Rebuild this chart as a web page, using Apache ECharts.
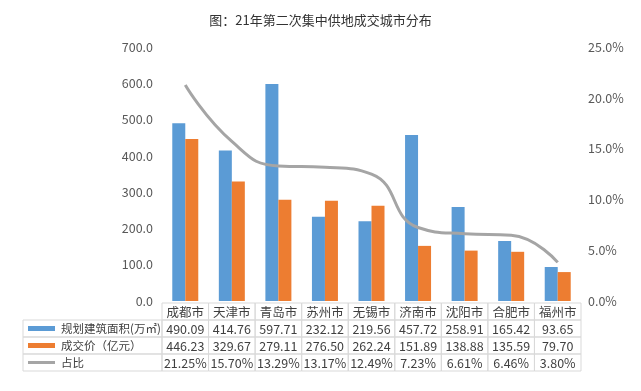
<!DOCTYPE html>
<html><head><meta charset="utf-8">
<script src="https://cdn.jsdelivr.net/npm/echarts@6/dist/echarts.min.js"></script>
<style>html,body{margin:0;padding:0;background:#fff}#c{width:641px;height:391px}</style>
</head><body><div id="c"></div>
<script>
const categories = ['成都市','天津市','青岛市','苏州市','无锡市','济南市','沈阳市','合肥市','福州市'];
const areaValues = [490.09,414.76,597.71,232.12,219.56,457.72,258.91,165.42,93.65];
const priceValues = [446.23,329.67,279.11,276.50,262.24,151.89,138.88,135.59,79.70];
const shareValues = [21.25,15.70,13.29,13.17,12.49,7.23,6.61,6.46,3.80];
const seriesNames = ['规划建筑面积(万㎡)','成交价（亿元）','占比'];
const leftTicks = {min:0,max:700,interval:100};
const rightTicks = {min:0,max:25,interval:5};

const FONT = '"Noto Sans CJK SC","Noto Sans",sans-serif';
const colors = ['#5b9bd5','#ed7d31','#a5a5a5'];
const plotL = 162, plotR = 581, plotT = 47, plotB = 301;
const W = 641, H = 391;
const colW = (plotR - plotL) / categories.length;
const rowTops = [303, 320, 337, 354, 371];
const tableL = 23;
const border = '#d9d9d9';

const graphic = [];
function cell(x, y, w, h) {
  graphic.push({type:'rect', shape:{x:x, y:y, width:w, height:h}, style:{fill:'none', stroke:border, lineWidth:1}, silent:true});
}
function text(x, y, s, align, size) {
  graphic.push({type:'text', x:x, y:y, style:{text:s, font:(size||12.5) + 'px ' + FONT, fill:'#404040', align:align||'center', verticalAlign:'middle'}, silent:true});
}
const rows = [
  categories,
  areaValues.map(v => v.toFixed(2)),
  priceValues.map(v => v.toFixed(2)),
  shareValues.map(v => v.toFixed(2) + '%')
];
rows.forEach((r, ri) => {
  const y = rowTops[ri], h = rowTops[ri+1] - rowTops[ri];
  r.forEach((s, ci) => {
    const x = plotL + ci * colW;
    cell(x, y, colW, h);
    text(x + colW/2, y + h/2 + 0.5, s);
  });
  if (ri > 0) {
    cell(tableL, y, plotL - tableL, h);
    const si = ri - 1;
    const cy = y + h/2;
    if (si < 2) {
      graphic.push({type:'rect', shape:{x:28, y:cy-2.5, width:27, height:5}, style:{fill:colors[si]}, silent:true});
    } else {
      graphic.push({type:'line', shape:{x1:28, y1:cy, x2:55, y2:cy}, style:{stroke:colors[2], lineWidth:3}, silent:true});
    }
    text(61, cy + 0.5, seriesNames[si], 'left', 11.5);
  }
});

const chart = echarts.init(document.getElementById('c'), null, {renderer:'canvas'});
chart.setOption({
  animation:false,
  backgroundColor:'#fff',
  title:{text:'图：21年第二次集中供地成交城市分布', left:'center', top:9, textStyle:{fontFamily:FONT, fontSize:13, fontWeight:'normal', color:'#333'}},
  grid:{left:plotL, right:W-plotR, top:plotT, bottom:H-plotB},
  xAxis:{type:'category', data:categories, axisLine:{show:false}, axisTick:{show:false}, axisLabel:{show:false}},
  yAxis:[
    {type:'value', min:leftTicks.min, max:leftTicks.max, interval:leftTicks.interval, splitLine:{show:false}, axisLine:{show:false}, axisTick:{show:false},
     axisLabel:{formatter:v => v.toFixed(1), color:'#595959', fontSize:12.5, fontFamily:FONT, margin:9}},
    {type:'value', min:rightTicks.min, max:rightTicks.max, interval:rightTicks.interval, splitLine:{show:false}, axisLine:{show:false}, axisTick:{show:false},
     axisLabel:{formatter:v => v.toFixed(1) + '%', color:'#595959', fontSize:12.5, fontFamily:FONT, margin:7}}
  ],
  series:[
    {name:seriesNames[0], type:'bar', data:areaValues, barWidth:13, barGap:'0%', itemStyle:{color:colors[0]}},
    {name:seriesNames[1], type:'bar', data:priceValues, barWidth:13, barGap:'0%', itemStyle:{color:colors[1]}},
    {name:seriesNames[2], type:'line', yAxisIndex:1, data:shareValues, smooth:0.5, symbol:'none', lineStyle:{color:colors[2], width:3}, z:5}
  ],
  graphic:graphic
});
</script></body></html>
